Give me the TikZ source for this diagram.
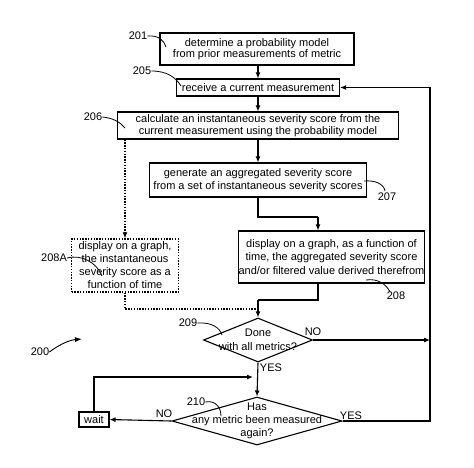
\documentclass[tikz,border=0pt]{standalone}
\usepackage{fontspec}
\setmainfont{Liberation Sans}
\usetikzlibrary{arrows.meta,shapes.geometric}
\begin{document}
\begin{tikzpicture}[x=1pt,y=-1pt,
  every node/.style={font=\fontsize{11}{12.5}\selectfont},
  stepbox/.style={draw,line width=1.1pt,inner sep=0pt,align=center},
  dotbox/.style={draw,line width=1.2pt,dash pattern=on 1.4pt off 1.4pt,inner sep=0pt,align=center},
  dec/.style={draw,diamond,line width=1.1pt,inner sep=0pt},
  arr/.style={line width=1.1pt,-{Latex[length=6pt,width=5pt]}},
  ln/.style={line width=1.1pt},
  dotarr/.style={line width=1.2pt,dash pattern=on 1.4pt off 1.4pt,-{Latex[length=6pt,width=5pt]}},
  dotln/.style={line width=1.2pt,dash pattern=on 1.4pt off 1.4pt},
  lead/.style={line width=0.8pt},
  lbl/.style={inner sep=0pt}]
\useasboundingbox (0,0) rectangle (474,467);
% boxes
\node[stepbox,minimum width=194pt,minimum height=32pt,font=\fontsize{11}{11.5}\selectfont] (b201) at (257,49) {determine a probability model\\from prior measurements of metric};
\node[stepbox,minimum width=163pt,minimum height=17pt] (b205) at (258,87.5) {receive a current measurement};
\node[stepbox,minimum width=281pt,minimum height=27pt] (b206) at (258,125.5) {calculate an instantaneous severity score from the\\current measurement using the probability model};
\node[stepbox,minimum width=217pt,minimum height=34pt] (b207) at (258,180) {generate an aggregated severity score\\from a set of instantaneous severity scores};
\node[stepbox,minimum width=165pt,minimum height=52pt,font=\fontsize{11}{13.5}\selectfont] (b208) at (331.5,257) {display on a graph, as a function of\\time, the aggregated severity score\\and/or filtered value derived therefrom};
\node[dotbox,minimum width=107pt,minimum height=53pt,font=\fontsize{11}{13}\selectfont] (b208A) at (125,265.5) {display on a graph,\\the instantaneous\\severity score as a\\function of time};
\node[dec,minimum width=109pt,minimum height=44pt] (d209) at (258,340) {};
\node[lbl,align=center,font=\fontsize{11}{14}\selectfont] (t209) at (d209.center) {Done\\with all metrics?};
\node[dec,minimum width=170pt,minimum height=48pt] (d210) at (257,421) {};
\node[lbl,align=center,font=\fontsize{11}{13}\selectfont] (t210) at (d210.center) {Has\\any metric been measured\\again?};
\node[stepbox,minimum width=30pt,minimum height=15pt] (wait) at (94,419.5) {wait};
% coordinates
\coordinate (j1) at (318,217);
\coordinate (j2) at (318,300);
\coordinate (j3) at (258,309);
\coordinate (r1) at (430,340);
\coordinate (r2) at (430,421);
\coordinate (j4) at (253,377);
% connectors
\draw[arr] (b201.south -| b205.north) -- (b205.north);
\draw[arr] (b205) -- (b206);
\draw[arr] (b206) -- (b207);
\draw[ln] (b207.south) |- (j1);
\draw[arr] (j1) -- (j1 |- b208.north);
\draw[ln] (j2 |- b208.south) -- (j2) -- (j2 -| d209.north);
\draw[arr] (j2 -| d209.north) -- (d209.north);
\draw[dotarr] (b208A.north |- b206.south) -- (b208A.north);
\draw[dotln] (b208A.south) |- (j3);
\draw[arr] (d209.east) -- (r1);
\draw[arr] (d210.east) -- (r2) -- (r2 |- b205.east) -- (b205.east);
\draw[arr] (d209.south) -- (d210.north);
\draw[arr] (d210.west) -- (wait.east);
\draw[arr] (wait.north) |- (j4);
% branch labels
\node[lbl] (no1) at (313,332) {NO};
\node[lbl] (yes1) at (271,368) {YES};
\node[lbl] (yes2) at (351,416) {YES};
\node[lbl] (no2) at (164,414) {NO};
% reference numerals
\node[lbl] (n201) at (138,36) {201};
\node[lbl] (n205) at (142,71) {205};
\node[lbl] (n206) at (93,117) {206};
\node[lbl] (n207) at (387,197) {207};
\node[lbl] (n208) at (396,296) {208};
\node[lbl] (n208A) at (54,258) {208A};
\node[lbl] (n209) at (188,323) {209};
\node[lbl] (n210) at (196,402) {210};
\node[lbl] (n200) at (40,352) {200};
\draw[lead] (n201.east) .. controls (158,35) and (164,40) .. (166,47);
\draw[lead] (n205.east) .. controls (168,71) and (176,78) .. (181,86);
\draw[lead] (n206.east) .. controls (113,118) and (120,122) .. (125,128);
\draw[lead] (364,181) .. controls (375,180) and (384,184) .. (385,191);
\draw[lead] (366,280) .. controls (378,278) and (387,285) .. (390,292);
\draw[lead] (n208A.east) .. controls (82,254) and (97,263) .. (102,276);
\draw[lead] (n209.east) .. controls (212,322) and (220,328) .. (222,335);
\draw[lead] (n210.east) .. controls (215,400) and (221,407) .. (221,416);
\draw[line width=0.9pt,-{Latex[length=7pt,width=5pt]}] (n200.east) .. controls (60,344) and (70,340) .. (82,339);
\end{tikzpicture}
\end{document}
